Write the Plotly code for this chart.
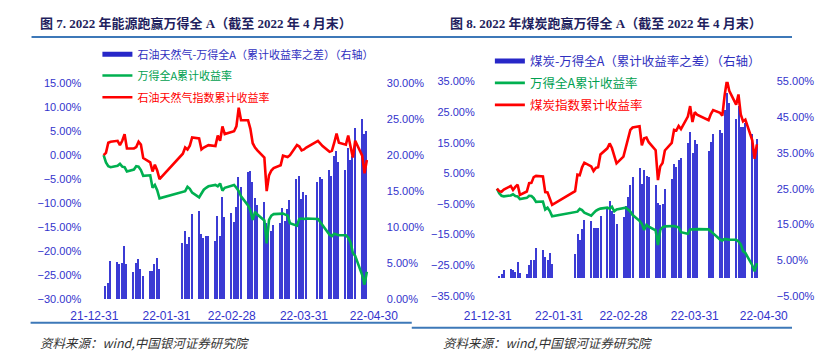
import plotly.graph_objects as go

# ---------------- data (values in %) ----------------
dates = [
    "2022-01-04", "2022-01-05", "2022-01-06", "2022-01-07", "2022-01-10", "2022-01-11", "2022-01-12",
    "2022-01-13", "2022-01-14", "2022-01-17", "2022-01-18", "2022-01-19", "2022-01-20", "2022-01-21",
    "2022-01-24", "2022-01-25", "2022-01-26", "2022-01-27", "2022-01-28",
    "2022-02-07", "2022-02-08", "2022-02-09", "2022-02-10", "2022-02-11", "2022-02-14", "2022-02-15",
    "2022-02-16", "2022-02-17", "2022-02-18", "2022-02-21", "2022-02-22", "2022-02-23", "2022-02-24",
    "2022-02-25", "2022-02-28",
    "2022-03-01", "2022-03-02", "2022-03-03", "2022-03-04", "2022-03-07", "2022-03-08", "2022-03-09",
    "2022-03-10", "2022-03-11", "2022-03-14", "2022-03-15", "2022-03-16", "2022-03-17", "2022-03-18",
    "2022-03-21", "2022-03-22", "2022-03-23", "2022-03-24", "2022-03-25", "2022-03-28", "2022-03-29",
    "2022-03-30", "2022-03-31",
    "2022-04-01", "2022-04-06", "2022-04-07", "2022-04-08", "2022-04-11", "2022-04-12", "2022-04-13",
    "2022-04-14", "2022-04-15", "2022-04-18", "2022-04-19", "2022-04-20", "2022-04-21", "2022-04-22",
    "2022-04-25", "2022-04-26", "2022-04-27",
]

# 万得全A 累计收益率
wind_a = [
    0.0, -1.5, -2.3, -2.5, -2.2, -1.8, -2.4, -2.5, -3.4, -3.0, -2.3, -2.4, -3.1, -4.3,
    -4.2, -6.8, -6.2, -7.3, -9.0,
    -7.7, -7.5, -6.6, -7.0, -7.8, -8.8, -8.0, -7.2, -6.8, -6.5, -6.2, -6.5, -5.9, -7.4, -6.8, -6.4,
    -6.2, -6.8, -7.5, -8.6, -10.5, -11.5, -13.5, -11.8, -12.4, -13.6, -18.4, -13.5, -12.6, -12.3,
    -12.2, -12.2, -12.4, -12.6, -14.2, -14.7, -13.3, -13.2, -13.3,
    -13.2, -13.3, -14.1, -14.6, -16.6, -16.9, -16.4, -16.6, -16.7, -16.7, -17.2, -18.2, -20.4, -21.0,
    -25.0, -27.0, -24.3,
]

# 石油天然气指数累计收益率
oil = [
    0.0, 0.5, 2.6, 2.8, 3.0, 2.1, 3.0, 4.4, 1.4, 1.4, 1.7, 2.8, 2.2, -0.6,
    -1.5, -3.4, -2.0, -3.2, -5.0,
    0.3, 1.6, 1.2, 2.0, 3.7, 3.5, 1.2, 1.6, 1.9, 2.1, 1.9, 4.1, 3.0, 6.0, 4.4, 4.9,
    5.0, 6.0, 9.9, 7.3, 7.3, 5.5, 2.5, 1.6, 1.0, -0.5, -7.5, -4.2, -3.2, -2.7,
    -2.1, -0.1, -0.3, -0.4, 0.0, 2.1, 1.8, 1.0, 1.2,
    1.6, 3.0, 2.4, 1.9, 0.7, 0.9, 2.6, 4.5, 2.6, 2.2, 4.1, 1.5, -0.5, 3.0,
    -0.1, -3.8, -1.0,
]

# 石油天然气-万得全A（累计收益率之差）
oil_diff = [
    0.0, 1.7, 2.2, 5.2, 5.1, 4.8, 4.9, 7.4, 4.8, 3.7, 4.9, 5.5, 4.2, 3.2,
    3.9, 3.8, 4.8, 5.6, 4.2,
    7.8, 9.4, 7.6, 8.6, 11.8, 12.2, 9.0, 8.4, 8.7, 8.7, 8.0, 11.5, 8.7, 14.2, 11.3, 11.9,
    10.7, 12.8, 16.9, 15.5, 17.6, 17.7, 16.2, 14.0, 13.1, 13.4, 10.5, 9.3, 9.4, 10.3,
    10.5, 12.6, 10.8, 12.5, 13.7, 16.6, 17.1, 13.9, 14.8,
    14.4, 16.2, 16.9, 16.7, 17.9, 17.1, 19.8, 20.6, 19.0, 17.9, 21.0, 19.3, 19.9, 23.7,
    25.0, 22.9, 23.3,
]

# 煤炭指数累计收益率
coal = [
    0.0, -0.8, -1.0, -0.3, 0.9, -0.4, 0.6, 1.3, -2.0, -0.9, 1.8, 1.9, 3.8, 4.2,
    4.0, -1.1, -1.2, -3.0, -5.3,
    -0.8, 4.6, 4.4, 7.0, 8.5, 7.3, 5.8, 6.8, 7.0, 11.2, 13.2, 14.8, 13.3, 10.8, 8.3, 10.5,
    13.5, 16.4, 19.2, 20.0, 20.4, 14.2, 16.5, 16.7, 15.2, 12.6, 2.8, 7.3, 8.4, 12.5,
    15.0, 19.2, 19.0, 20.5, 19.5, 23.6, 27.0, 21.8, 25.0,
    24.2, 22.4, 24.4, 25.7, 24.8, 23.9, 30.6, 35.5, 32.0, 27.5, 30.8, 24.3, 22.0, 22.6,
    15.8, 9.8, 14.5,
]

# 煤炭-万得全A（累计收益率之差）
coal_diff = [
    0.0, 0.6, 1.2, 2.2, 2.7, 2.4, 1.8, 4.5, 1.5, 1.3, 3.8, 5.0, 5.0, 8.6,
    8.0, 5.9, 5.1, 7.0, 4.1,
    6.8, 12.4, 10.8, 13.7, 16.3, 16.0, 14.2, 14.0, 14.0, 17.6, 19.5, 21.8, 19.0, 18.1, 15.1, 17.2,
    20.4, 22.9, 26.2, 28.3, 31.0, 26.5, 30.3, 28.7, 28.3, 26.2, 21.1, 20.6, 20.8, 25.1,
    27.9, 32.0, 31.2, 33.2, 33.7, 38.0, 41.0, 35.1, 38.8,
    37.6, 35.8, 38.2, 40.5, 41.5, 40.7, 47.1, 52.0, 49.2, 44.6, 48.4, 42.3, 42.3, 43.5,
    40.5, 36.0, 38.9,
]

tick_dates = ["2021-12-31", "2022-01-31", "2022-02-28", "2022-03-31", "2022-04-30"]
tick_text = ["21-12-31", "22-01-31", "22-02-28", "22-03-31", "22-04-30"]

title_left = "图 7. 2022 年能源跑赢万得全 A（截至 2022 年 4 月末）"
title_right = "图 8. 2022 年煤炭跑赢万得全 A（截至 2022 年 4 月末）"
source_text = "资料来源：wind,中国银河证券研究院"
name_oil_diff = "石油天然气-万得全A（累计收益率之差）（右轴）"
name_coal_diff = "煤炭-万得全A（累计收益率之差）（右轴）"
name_a = "万得全A累计收益率"
name_oil = "石油天然气指数累计收益率"
name_coal = "煤炭指数累计收益率"

# ---------------- styling ----------------
W, H = 816, 353
BAR = "#3b3bd4"
GREEN = "#00b050"
RED = "#ff0000"
AXC = "#3333cc"
GRAYLINE = "#c6c6c6"
NUMFONT = "Liberation Sans, Arial, sans-serif"
CJK = "Noto Sans CJK SC, sans-serif"
DAY_MS = 86400000


def fx(p):
    return p / W


def fy(p):
    return 1 - p / H


# plot areas in pixels
L = dict(x0=74.7, x1=371.7, ytop=80.0, ybot=303.3, lr=[-30, 15], rr=[0, 30], ldt=5, rdt=5, lt0=0, rt0=0,
         leg_x=83, leg_y=[50, 72, 94.5], leg_font=11)
R = dict(x0=492.7, x1=786.0, ytop=78.3, ybot=300.0, lr=[-35, 35], rr=[-5, 55], ldt=10, rdt=10, lt0=5, rt0=5,
         leg_x=500, leg_y=[57.3, 80, 102.7], leg_font=12.5)

fig = go.Figure()
legends = {}


def add_chart(idx, area, diff_vals, idx_vals, name_diff, name_idx):
    xa = "x" if idx == 0 else "x2"
    ybase = "y" if idx == 0 else "y3"      # bars (right side)
    yover = "y2" if idx == 0 else "y4"     # lines (left side)
    lg = [f"legend{2 + 3 * idx + k}" for k in range(3)]
    for k, name in enumerate(lg):
        legends[name] = dict(x=fx(area["leg_x"] - 5), y=fy(area["leg_y"][k]), xanchor="left",
                             yanchor="middle", bgcolor="rgba(0,0,0,0)", borderwidth=0,
                             font=dict(family=CJK, size=area["leg_font"]), itemclick=False)
    fig.add_trace(go.Bar(x=dates, y=diff_vals, xaxis=xa, yaxis=ybase,
                         marker=dict(color=BAR, line=dict(width=0)),
                         width=0.62 * DAY_MS, showlegend=False, hoverinfo="skip", legend=lg[0]))
    # legend proxy for the bars
    fig.add_trace(go.Scatter(x=[None], y=[None], xaxis=xa, yaxis=yover, mode="lines",
                             line=dict(color="#2727c8", width=5),
                             name=f"<span style='color:#2f2fc0'>{name_diff}</span>", legend=lg[0]))
    fig.add_trace(go.Scatter(x=dates, y=wind_a, xaxis=xa, yaxis=yover, mode="lines",
                             line=dict(color=GREEN, width=2.6),
                             name=f"<span style='color:#00a050'>{name_a}</span>",
                             legend=lg[1], cliponaxis=False))
    fig.add_trace(go.Scatter(x=dates, y=idx_vals, xaxis=xa, yaxis=yover, mode="lines",
                             line=dict(color=RED, width=2.6),
                             name=f"<span style='color:#ff0000'>{name_idx}</span>",
                             legend=lg[2], cliponaxis=False))


add_chart(0, L, oil_diff, oil, name_oil_diff, name_oil)
add_chart(1, R, coal_diff, coal, name_coal_diff, name_coal)


def xaxis_cfg(area):
    return dict(domain=[fx(area["x0"]), fx(area["x1"])], type="date",
                range=[tick_dates[0], tick_dates[-1]],
                tickvals=tick_dates, ticktext=tick_text, ticks="", showline=False,
                showgrid=False, zeroline=False, ticklabelstandoff=8,
                tickfont=dict(family=NUMFONT, size=12, color=AXC), fixedrange=True)


def zero_axis_cfg(area, over):
    pos = fy(area["ybot"]) + (0 - area["lr"][0]) / (area["lr"][1] - area["lr"][0]) * (
        fy(area["ytop"]) - fy(area["ybot"]))
    return dict(domain=[fx(area["x0"]), fx(area["x1"])], type="date", overlaying=over,
                anchor="free", position=pos,
                range=[tick_dates[0], tick_dates[-1]], tickvals=tick_dates,
                showticklabels=False, ticks="outside", ticklen=4, tickwidth=1.3,
                tickcolor=GRAYLINE, showline=True, linecolor=GRAYLINE, linewidth=1.6,
                showgrid=False, zeroline=False, fixedrange=True)


def y_cfg(area, which, anchor, over=None):
    rng = area["rr"] if which == "r" else area["lr"]
    dt = area["rdt"] if which == "r" else area["ldt"]
    t0 = area["rt0"] if which == "r" else area["lt0"]
    d = dict(domain=[fy(area["ybot"]), fy(area["ytop"])], range=rng, dtick=dt, tick0=t0,
             side="right" if which == "r" else "left", anchor=anchor,
             tickformat=".2f", ticksuffix="%", showgrid=False, zeroline=False,
             showline=False, ticks="", ticklabelstandoff=12,
             tickfont=dict(family=NUMFONT, size=11, color=AXC), fixedrange=True)
    if over:
        d["overlaying"] = over
    return d


fig.update_layout(
    width=W, height=H, autosize=False,
    margin=dict(l=0, r=0, t=0, b=0, pad=0),
    paper_bgcolor="white", plot_bgcolor="rgba(0,0,0,0)",
    bargap=0, barmode="overlay",
    xaxis=xaxis_cfg(L), xaxis2=xaxis_cfg(R),
    xaxis3=zero_axis_cfg(L, "x"), xaxis4=zero_axis_cfg(R, "x2"),
    yaxis=y_cfg(L, "r", "x"), yaxis2=y_cfg(L, "l", "x", over="y"),
    yaxis3=y_cfg(R, "r", "x2"), yaxis4=y_cfg(R, "l", "x2", over="y3"),
    showlegend=True,
    **legends,
)

TITLEFONT = dict(family="Liberation Serif, Noto Sans CJK SC, serif", size=13, color="#1f1f5e")
fig.add_annotation(text=f"<b>{title_left}</b>", x=fx(15), y=fy(18), xref="paper", yref="paper",
                   xanchor="left", yanchor="middle", showarrow=False, font=TITLEFONT)
fig.add_annotation(text=f"<b>{title_right}</b>", x=fx(450), y=fy(18), xref="paper", yref="paper",
                   xanchor="left", yanchor="middle", showarrow=False, font=TITLEFONT)
SRCFONT = dict(family=CJK, size=12.5, color="#333333")
fig.add_annotation(text=f"<i>{source_text}</i>", x=fx(15), y=fy(348), xref="paper", yref="paper",
                   xanchor="left", yanchor="middle", showarrow=False, font=SRCFONT)
fig.add_annotation(text=f"<i>{source_text}</i>", x=fx(443), y=fy(348), xref="paper", yref="paper",
                   xanchor="left", yanchor="middle", showarrow=False, font=SRCFONT)

RULE = dict(color="#3d78b8", width=2)
fig.add_shape(type="line", xref="paper", yref="paper", x0=fx(8), x1=fx(816), y0=fy(32), y1=fy(32), line=RULE)
fig.add_shape(type="line", xref="paper", yref="paper", x0=fx(7), x1=fx(412), y0=fy(328), y1=fy(328), line=RULE)
fig.add_shape(type="line", xref="paper", yref="paper", x0=fx(412), x1=fx(816), y0=fy(333), y1=fy(333), line=RULE)

fig.write_html("out.html")
